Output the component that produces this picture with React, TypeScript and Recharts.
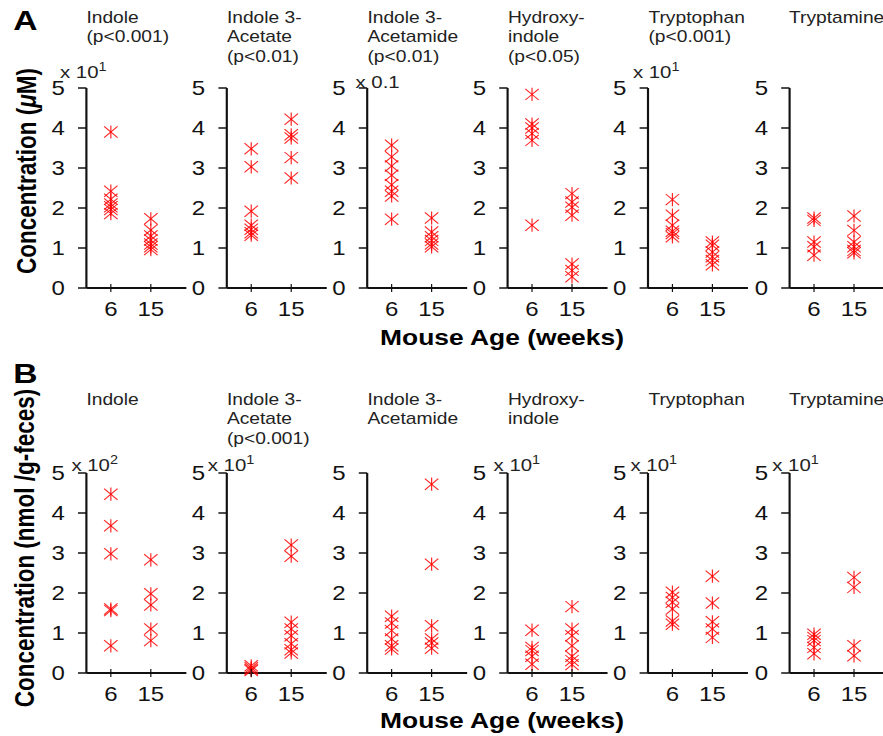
import { ScatterChart, Scatter, XAxis, YAxis } from "recharts";

// compound panels, left to right
const titlesA = [
  ["Indole", "(p<0.001)"],
  ["Indole 3-", "Acetate", "(p<0.01)"],
  ["Indole 3-", "Acetamide", "(p<0.01)"],
  ["Hydroxy-", "indole", "(p<0.05)"],
  ["Tryptophan", "(p<0.001)"],
  ["Tryptamine"],
];
const titlesB = [
  ["Indole"],
  ["Indole 3-", "Acetate", "(p<0.001)"],
  ["Indole 3-", "Acetamide"],
  ["Hydroxy-", "indole"],
  ["Tryptophan"],
  ["Tryptamine"],
];

// axis multipliers: [base, superscript]
const multA = [["x 10", "1"], null, ["x 0.1", ""], null, ["x 10", "1"], null];
const multB = [["x 10", "2"], ["x 10", "1"], null, ["x 10", "1"], ["x 10", "1"], ["x 10", "1"]];

const ages = [6, 15];
const yTicks = [0, 1, 2, 3, 4, 5];

// serum (uM), panel A
const serumWeek6 = [
  [3.9, 2.42, 2.22, 2.1, 2.03, 1.96, 1.86],
  [3.48, 3.03, 1.92, 1.57, 1.47, 1.38, 1.32],
  [3.57, 3.28, 3.05, 2.82, 2.58, 2.42, 2.3, 1.72],
  [4.84, 4.1, 4.0, 3.86, 3.69, 1.57],
  [2.21, 1.82, 1.57, 1.42, 1.36, 1.28],
  [1.75, 1.69, 1.15, 1.03, 0.82],
];
const serumWeek15 = [
  [1.73, 1.45, 1.3, 1.2, 1.1, 1.03, 0.96],
  [4.22, 3.83, 3.75, 3.26, 2.75],
  [1.75, 1.4, 1.28, 1.19, 1.1, 1.03],
  [2.36, 2.15, 2.02, 1.82, 0.6, 0.44, 0.28],
  [1.15, 1.07, 0.9, 0.78, 0.69, 0.58],
  [1.8, 1.44, 1.15, 1.03, 0.94, 0.88],
];

// feces (nmol/g), panel B
const fecesWeek6 = [
  [4.47, 3.68, 2.98, 1.6, 1.56, 0.68],
  [0.18, 0.13, 0.09, 0.06],
  [1.42, 1.25, 1.06, 0.85, 0.68, 0.6],
  [1.07, 0.64, 0.56, 0.42, 0.22],
  [2.02, 1.89, 1.77, 1.6, 1.3, 1.22],
  [0.97, 0.89, 0.81, 0.64, 0.48],
];
const fecesWeek15 = [
  [2.83, 1.98, 1.7, 1.1, 0.81],
  [3.2, 2.92, 1.27, 1.1, 0.93, 0.73, 0.58, 0.5],
  [4.72, 2.72, 1.18, 0.85, 0.75, 0.62],
  [1.66, 1.1, 0.93, 0.68, 0.42, 0.31, 0.21],
  [2.42, 1.75, 1.28, 1.1, 0.89],
  [2.39, 2.14, 0.68, 0.43],
];

// the original figure is stretched horizontally
const S = 1.2;
const W = 883;
const H = 736;
const FONT = "'Liberation Sans', Arial, sans-serif";
const INK = "#111";
const YAXIS_W = 34;
const PLOT_W = 83.3;
const CHART_W = YAXIS_W + PLOT_W + 4;
const axisX = (i: number) => 72 + i * 117.1;

function Asterisk(props: any) {
  const { cx, cy } = props;
  if (cx == null || cy == null) return null;
  const d = 5.6;
  const v = 6.6;
  return (
    <g stroke="#ff0000" strokeWidth={1} strokeOpacity={0.85} fill="none">
      <line x1={cx - d} y1={cy - d} x2={cx + d} y2={cy + d} />
      <line x1={cx - d} y1={cy + d} x2={cx + d} y2={cy - d} />
      <line x1={cx} y1={cy - v} x2={cx} y2={cy + v} />
    </g>
  );
}

function AgeTick(props: any) {
  const { x, y, payload } = props;
  return (
    <g>
      <line x1={x} x2={x} y1={y - 4} y2={y + 4} stroke={INK} strokeWidth={1} />
      <text x={x} y={y + 28} textAnchor="middle" fontSize={20} fill={INK} fontFamily={FONT}>
        {payload.value}
      </text>
    </g>
  );
}

function Panel({ w6, w15, left, top }: { w6: number[]; w15: number[]; left: number; top: number }) {
  const data = [
    ...w6.map((v) => ({ x: ages[0], y: v })),
    ...w15.map((v) => ({ x: ages[1], y: v })),
  ];
  return (
    <div style={{ position: "absolute", left, top }}>
      <ScatterChart width={CHART_W} height={250} margin={{ top: 10, right: 4, bottom: 0, left: 0 }}>
        <XAxis
          type="number"
          dataKey="x"
          domain={[0.5, 23]}
          ticks={ages}
          interval={0}
          tick={<AgeTick />}
          tickLine={false}
          tickSize={0}
          tickMargin={0}
          height={40}
          axisLine={{ stroke: INK, strokeWidth: 1.8 }}
        />
        <YAxis
          type="number"
          dataKey="y"
          domain={[0, 5]}
          ticks={yTicks}
          interval={0}
          width={YAXIS_W}
          tickSize={7}
          tickMargin={11}
          tick={{ fontSize: 20, fill: INK, fontFamily: FONT }}
          tickLine={{ stroke: INK, strokeWidth: 1.5 }}
          axisLine={{ stroke: INK, strokeWidth: 1.8 }}
        />
        <Scatter data={data} shape={<Asterisk />} isAnimationActive={false} />
      </ScatterChart>
    </div>
  );
}

function Titles({ titles, baseline }: { titles: string[][]; baseline: number }) {
  return (
    <>
      {titles.map((lines, i) => (
        <text key={i} x={axisX(i)} y={baseline} fontSize={16} fill="#222" fontFamily={FONT}>
          {lines.map((t, j) => (
            <tspan key={j} x={axisX(i)} dy={j === 0 ? 0 : 19.5}>
              {t}
            </tspan>
          ))}
        </text>
      ))}
    </>
  );
}

function Multipliers({ mult, offsets, baseline }: { mult: (string[] | null)[]; offsets: number[]; baseline: number[] }) {
  return (
    <>
      {mult.map((m, i) =>
        m ? (
          <text key={i} x={axisX(i) + offsets[i]} y={baseline[i]} fontSize={17} fill="#222" fontFamily={FONT}>
            {m[0]}
            {m[1] ? (
              <tspan fontSize={12} dy={-7}>
                {m[1]}
              </tspan>
            ) : null}
          </text>
        ) : null
      )}
    </>
  );
}

export default function App() {
  const rowATop = 88 - 10;
  const rowBTop = 473 - 10;
  return (
    <div style={{ position: "absolute", left: 0, top: 0, width: W, height: H, overflow: "hidden", background: "#fff" }}>
      <div
        style={{
          position: "absolute",
          left: 0,
          top: 0,
          width: W / S,
          height: H,
          transform: `scaleX(${S})`,
          transformOrigin: "0 0",
          fontFamily: FONT,
        }}
      >
        {serumWeek6.map((w6, i) => (
          <Panel key={"a" + i} w6={w6} w15={serumWeek15[i]} left={axisX(i) - YAXIS_W} top={rowATop} />
        ))}
        {fecesWeek6.map((w6, i) => (
          <Panel key={"b" + i} w6={w6} w15={fecesWeek15[i]} left={axisX(i) - YAXIS_W} top={rowBTop} />
        ))}
        <svg width={W / S} height={H} style={{ position: "absolute", left: 0, top: 0, pointerEvents: "none" }}>
          <text x={11} y={30} fontSize={28} fontWeight="bold" fill="#000" fontFamily={FONT}>A</text>
          <text x={11} y={383} fontSize={28} fontWeight="bold" fill="#000" fontFamily={FONT}>B</text>
          <Titles titles={titlesA} baseline={23} />
          <Titles titles={titlesB} baseline={405} />
          <Multipliers mult={multA} offsets={[-22, 0, -10, 0, -13, 0]} baseline={[78, 0, 88, 0, 78, 0]} />
          <Multipliers mult={multB} offsets={[-12.5, -16, 0, -12, -15, -14]} baseline={[471, 471, 471, 471, 471, 471]} />
          <text
            transform="translate(22,171) rotate(-90)"
            textAnchor="middle"
            dominantBaseline="central"
            fontSize={22.5}
            fontWeight="bold"
            fill="#000"
            fontFamily={FONT}
          >
            Concentration (<tspan fontStyle="italic">μ</tspan>M)
          </text>
          <text
            transform="translate(21,548) rotate(-90)"
            textAnchor="middle"
            dominantBaseline="central"
            fontSize={22.5}
            fontWeight="bold"
            fill="#000"
            fontFamily={FONT}
          >
            Concentration (nmol /g-feces)
          </text>
          <text x={502 / S} y={345} textAnchor="middle" fontSize={22} fontWeight="bold" fill="#000" fontFamily={FONT}>
            Mouse Age (weeks)
          </text>
          <text x={502 / S} y={728} textAnchor="middle" fontSize={22} fontWeight="bold" fill="#000" fontFamily={FONT}>
            Mouse Age (weeks)
          </text>
        </svg>
      </div>
    </div>
  );
}
